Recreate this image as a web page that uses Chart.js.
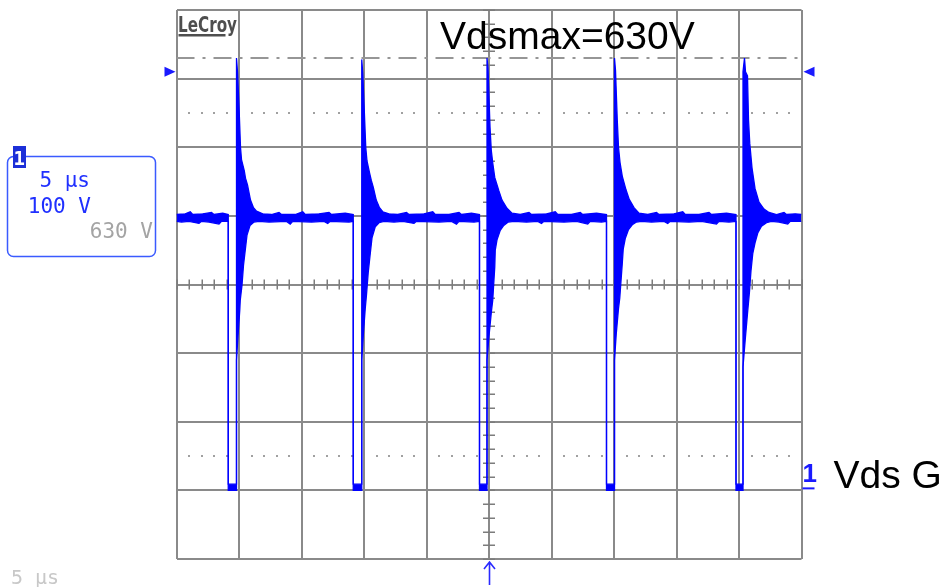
<!DOCTYPE html>
<html>
<head>
<meta charset="utf-8">
<title>Vds G</title>
<script src="https://cdn.jsdelivr.net/npm/chart.js@4/dist/chart.umd.min.js"></script>
<style>
  html, body { margin: 0; padding: 0; background: #ffffff; }
  canvas { display: block; }
</style>
</head>
<body>
<canvas id="scope" width="944" height="587"></canvas>
<script>
// Time axis: 5 µs/div, 10 divisions, trigger at 0
const timeDivs = [-25, -20, -15, -10, -5, 0, 5, 10, 15, 20, 25];
// Voltage axis: 100 V/div, 8 divisions, channel 1 ground at 0 V
const voltDivs = [-100, 0, 100, 200, 300, 400, 500, 600, 700];

// Drain-source voltage, upper edge of the trace band  [µs, V]
const traceTop = [
  [-25.0, 402], [-24.3, 403], [-23.9, 406], [-23.7, 402], [-22.9, 403], [-22.2, 405], [-22.0, 402], [-21.3, 404], [-20.86, 402],
  [-20.86, 9], [-20.20, 9], [-20.20, 630], [-20.12, 610], [-20.00, 560], [-19.88, 500], [-19.80, 482], [-19.58, 466], [-19.48, 455], [-19.32, 445], [-19.08, 423], [-18.84, 412], [-18.60, 407], [-18.10, 403],
  [-17.4, 402], [-16.8, 405], [-16.6, 402], [-15.5, 402], [-14.9, 406], [-14.7, 402], [-13.6, 403], [-12.8, 405], [-12.6, 402], [-11.5, 404], [-10.86, 402],
  [-10.86, 9], [-10.18, 9], [-10.18, 628], [-10.10, 608], [-9.98, 555], [-9.86, 500], [-9.76, 480], [-9.56, 463], [-9.42, 452], [-9.26, 442], [-9.02, 423], [-8.76, 412], [-8.50, 406], [-8.00, 403],
  [-7.3, 402], [-6.6, 405], [-6.4, 402], [-5.2, 403], [-4.5, 406], [-4.3, 402], [-3.2, 402], [-2.4, 405], [-2.2, 402], [-1.4, 404], [-0.76, 402],
  [-0.76, 9], [-0.16, 9], [-0.16, 630], [-0.08, 615], [0.08, 530], [0.18, 496], [0.30, 477], [0.46, 456], [0.78, 437], [1.04, 423], [1.44, 411], [1.84, 404],
  [2.5, 402], [3.2, 405], [3.4, 402], [4.6, 403], [5.3, 406], [5.5, 402], [6.6, 402], [7.3, 405], [7.5, 402], [8.6, 404], [9.40, 402],
  [9.40, 9], [10.04, 9], [10.04, 630], [10.12, 612], [10.26, 540], [10.36, 500], [10.48, 478], [10.66, 458], [10.96, 438], [11.22, 424], [11.60, 412], [12.00, 404],
  [12.7, 402], [13.4, 405], [13.6, 402], [14.8, 403], [15.5, 406], [15.7, 402], [16.8, 402], [17.6, 405], [17.8, 402], [19.0, 404], [19.76, 402],
  [19.76, 9], [20.32, 9], [20.32, 610], [20.44, 630], [20.52, 610], [20.68, 604], [20.76, 540], [20.86, 506], [21.04, 470], [21.28, 440], [21.60, 420], [22.00, 410], [22.40, 405],
  [23.0, 402], [23.6, 405], [23.8, 402], [24.5, 403], [25.0, 402]
];

// Drain-source voltage, lower edge of the trace band  [µs, V]
const traceBottom = [
  [-25.0, 392], [-24.6, 391], [-24.0, 392], [-23.2, 389], [-23.0, 392], [-22.4, 391], [-21.6, 388], [-21.4, 392], [-20.86, 392],
  [-20.86, 0], [-20.20, 0], [-20.20, 190], [-20.08, 225], [-19.94, 262], [-19.90, 277], [-19.76, 299], [-19.64, 328], [-19.50, 350], [-19.36, 372], [-19.12, 386], [-18.80, 391], [-18.40, 392],
  [-17.6, 391], [-16.2, 392], [-15.9, 388], [-15.7, 392], [-14.2, 391], [-13.2, 392], [-12.9, 389], [-12.7, 392], [-11.2, 391], [-10.86, 392],
  [-10.86, 0], [-10.18, 0], [-10.18, 190], [-10.06, 225], [-9.90, 265], [-9.80, 285], [-9.66, 318], [-9.50, 345], [-9.36, 368], [-9.10, 384], [-8.80, 390], [-8.40, 392],
  [-7.6, 391], [-6.9, 392], [-6.0, 389], [-5.8, 392], [-4.0, 391], [-3.0, 392], [-2.6, 388], [-2.4, 392], [-1.2, 391], [-0.76, 392],
  [-0.76, 0], [-0.16, 0], [-0.16, 190], [0.00, 225], [0.20, 262], [0.30, 277], [0.38, 302], [0.46, 325], [0.50, 350], [0.64, 365], [0.90, 379], [1.18, 386], [1.54, 391], [2.00, 392],
  [3.0, 391], [3.9, 392], [4.2, 389], [4.4, 392], [6.0, 391], [7.0, 392], [7.9, 388], [8.1, 392], [9.0, 391], [9.40, 392],
  [9.40, 0], [10.04, 0], [10.04, 190], [10.18, 228], [10.36, 265], [10.46, 280], [10.56, 305], [10.66, 330], [10.74, 352], [10.90, 367], [11.16, 380], [11.46, 387], [11.80, 391], [12.20, 392],
  [13.0, 391], [14.0, 392], [14.3, 389], [14.5, 392], [16.0, 391], [17.0, 392], [18.2, 388], [18.4, 392], [19.2, 391], [19.76, 392],
  [19.76, 0], [20.32, 0], [20.32, 180], [20.50, 220], [20.70, 262], [20.84, 290], [20.96, 320], [21.10, 345], [21.30, 362], [21.50, 375], [21.80, 385], [22.20, 390], [22.60, 392],
  [23.2, 391], [23.9, 388], [24.1, 392], [25.0, 392]
];

// Levels shown on the screen (V)
const vdsMax = 630;          // cursor, "Vdsmax=630V"
const markerLevel = 610;     // edge arrows at both sides of the grid
const dottedLevels = [550, 50];
const groundLevel = 0;
const centreVolt = 300;      // horizontal centre line
const centreTime = 0;        // vertical centre line / trigger

// Channel readout texts
const readout = { timeDiv: '5 µs', voltDiv: '100 V', offset: '630 V' };

const TRACE = 'rgb(0, 0, 255)';
const GRID = '#8a8a8a';

const toXY = arr => arr.map(([x, y]) => ({ x, y }));

const scopeDecor = {
  id: 'scopeDecor',
  beforeDatasetsDraw(chart) {
    const { ctx, chartArea: a, scales: { x, y } } = chart;
    ctx.save();

    // minor divisions along the centre cross
    const yc = y.getPixelForValue(centreVolt);
    const xc = x.getPixelForValue(centreTime);
    ctx.strokeStyle = '#7c7c7c';
    ctx.lineWidth = 1.5;
    ctx.beginPath();
    for (let t = x.min; t <= x.max + 1e-9; t += 1) {
      const px = Math.round(x.getPixelForValue(t)) + 0.25;
      ctx.moveTo(px, yc - 5); ctx.lineTo(px, yc + 5);
    }
    for (let v = y.min; v <= y.max + 1e-9; v += 20) {
      const py = Math.round(y.getPixelForValue(v)) + 0.25;
      ctx.moveTo(xc - 6, py); ctx.lineTo(xc + 6, py);
    }
    ctx.stroke();

    // dotted reference rows
    ctx.fillStyle = '#a0a0a0';
    for (const lv of dottedLevels) {
      const py = Math.round(y.getPixelForValue(lv));
      for (let t = x.min; t <= x.max + 1e-9; t += 1) {
        if (Math.abs(t % 5) < 1e-9) continue;
        const px = Math.round(x.getPixelForValue(t));
        ctx.fillRect(px - 1, py - 1, 2, 2);
      }
    }

    // Vdsmax cursor
    const yMax = Math.round(y.getPixelForValue(vdsMax));
    ctx.strokeStyle = '#969696';
    ctx.lineWidth = 2;
    ctx.setLineDash([18, 8, 3, 8]);
    ctx.beginPath();
    ctx.moveTo(a.left, yMax); ctx.lineTo(a.right, yMax);
    ctx.stroke();
    ctx.restore();
  },
  afterDraw(chart) {
    const { ctx, chartArea: a, scales: { x, y } } = chart;
    ctx.save();

    // edge arrows
    const ym = y.getPixelForValue(markerLevel);
    ctx.fillStyle = '#1a1aff';
    ctx.beginPath();
    ctx.moveTo(a.left - 1, ym); ctx.lineTo(a.left - 12, ym - 5); ctx.lineTo(a.left - 12, ym + 5); ctx.closePath();
    ctx.fill();
    ctx.beginPath();
    ctx.moveTo(a.right + 2, ym); ctx.lineTo(a.right + 13, ym - 5); ctx.lineTo(a.right + 13, ym + 5); ctx.closePath();
    ctx.fill();

    // channel 1 ground marker
    const yg = y.getPixelForValue(groundLevel);
    ctx.fillStyle = '#1a1aff';
    ctx.font = 'bold 26px "Liberation Sans", Arial, sans-serif';
    ctx.textBaseline = 'alphabetic';
    ctx.textAlign = 'left';
    ctx.fillText('1', a.right + 1, yg - 8);
    ctx.strokeStyle = '#1a1aff';
    ctx.lineWidth = 2;
    ctx.beginPath();
    ctx.moveTo(a.right + 1, yg - 2); ctx.lineTo(a.right + 13, yg - 2);
    ctx.stroke();

    // trigger position arrow
    const xt = Math.round(x.getPixelForValue(centreTime)) + 0.5;
    ctx.strokeStyle = '#2a2aff';
    ctx.lineWidth = 1.6;
    ctx.beginPath();
    ctx.moveTo(xt, a.bottom + 3); ctx.lineTo(xt, a.bottom + 26);
    ctx.moveTo(xt - 5.5, a.bottom + 10); ctx.lineTo(xt, a.bottom + 3); ctx.lineTo(xt + 5.5, a.bottom + 10);
    ctx.stroke();

    // annotation texts
    ctx.fillStyle = '#000000';
    ctx.font = '39px "Liberation Sans", Arial, sans-serif';
    ctx.fillText('Vdsmax=' + vdsMax + 'V', 440, 49);
    ctx.fillText('Vds G', a.right + 32, yg - 2);

    // LeCroy logo, condensed to its plate width
    ctx.save();
    ctx.fillStyle = '#4e4e4e';
    ctx.font = 'bold 21px "DejaVu Sans", sans-serif';
    const logo = 'LeCroy';
    const lw = ctx.measureText(logo).width;
    ctx.translate(a.left + 1.5, a.top + 22);
    ctx.scale(59 / lw, 1);
    ctx.fillText(logo, 0, 0);
    ctx.restore();
    ctx.fillStyle = '#4e4e4e';
    ctx.fillRect(a.left + 2, a.top + 24, 47, 2.5);

    // channel descriptor box
    ctx.strokeStyle = '#3a5aff';
    ctx.lineWidth = 1.5;
    ctx.beginPath();
    ctx.roundRect(7.5, 156.5, 148, 100, 6);
    ctx.stroke();
    ctx.fillStyle = '#1c2fd8';
    ctx.fillRect(13, 146, 13, 22);
    ctx.fillStyle = '#ffffff';
    ctx.font = 'bold 19px "DejaVu Sans Mono", monospace';
    ctx.fillText('1', 13.5, 165);

    ctx.font = '21px "DejaVu Sans Mono", monospace';
    ctx.textAlign = 'right';
    ctx.fillStyle = '#2030ff';
    ctx.fillText(readout.timeDiv, 90, 187);
    ctx.fillText(readout.voltDiv, 91, 213);
    ctx.fillStyle = '#a4a4a4';
    ctx.fillText(readout.offset, 153, 238);

    ctx.textAlign = 'left';
    ctx.fillStyle = '#c8c8c8';
    ctx.font = '20px "DejaVu Sans Mono", monospace';
    ctx.fillText(readout.timeDiv, 11, 584);
    ctx.restore();
  }
};

new Chart(document.getElementById('scope'), {
  type: 'line',
  data: {
    datasets: [
      {
        label: 'Vds',
        data: toXY(traceTop),
        borderColor: TRACE,
        backgroundColor: TRACE,
        borderWidth: 1.3,
        pointRadius: 0,
        tension: 0,
        fill: '+1'
      },
      {
        label: 'Vds (lower)',
        data: toXY(traceBottom),
        borderColor: TRACE,
        backgroundColor: TRACE,
        borderWidth: 1.3,
        pointRadius: 0,
        tension: 0,
        fill: false
      }
    ]
  },
  options: {
    responsive: false,
    animation: false,
    devicePixelRatio: 1,
    events: [],
    layout: { padding: { left: 176.5, right: 142.5, top: 10, bottom: 28 } },
    plugins: {
      legend: { display: false },
      tooltip: { enabled: false },
      title: { display: false }
    },
    scales: {
      x: {
        type: 'linear',
        min: -25,
        max: 25,
        afterBuildTicks: s => { s.ticks = timeDivs.map(v => ({ value: v })); },
        ticks: { display: false },
        grid: { color: GRID, lineWidth: 2, drawTicks: false },
        border: { display: false }
      },
      y: {
        type: 'linear',
        min: -100,
        max: 700,
        afterBuildTicks: s => { s.ticks = voltDivs.map(v => ({ value: v })); },
        ticks: { display: false },
        grid: { color: GRID, lineWidth: 2, drawTicks: false },
        border: { display: false }
      }
    }
  },
  plugins: [scopeDecor]
});
</script>
</body>
</html>
